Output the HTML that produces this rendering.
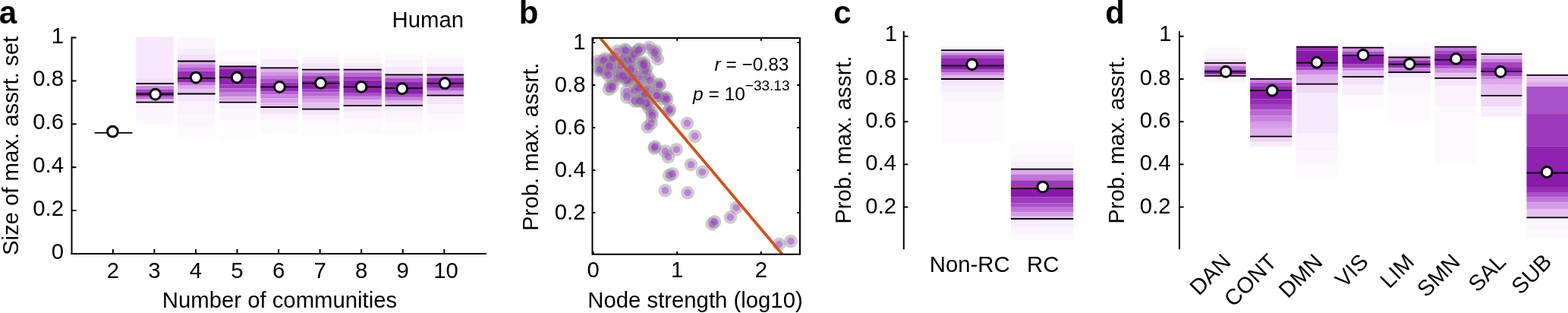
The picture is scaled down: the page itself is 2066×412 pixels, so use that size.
<!DOCTYPE html>
<html><head><meta charset="utf-8"><style>
html,body{margin:0;padding:0;background:#fff;overflow:hidden;}
svg{display:block;font-family:"Liberation Sans", Arial, Helvetica, sans-serif;}
</style></head><body>
<svg width="2066" height="412" viewBox="0 0 2066 412">
<rect width="2066" height="412" fill="#fff"/>
<rect x="179.30" y="48.50" width="49.50" height="53.80" fill="#f6e8fa"/>
<rect x="179.30" y="102.30" width="49.50" height="7.70" fill="#f2def8"/>
<rect x="179.30" y="110.00" width="49.50" height="3.20" fill="#e6c0f1"/>
<rect x="179.30" y="113.20" width="49.50" height="4.50" fill="#c882de"/>
<rect x="179.30" y="117.70" width="49.50" height="2.80" fill="#a344c1"/>
<rect x="179.30" y="120.50" width="49.50" height="2.70" fill="#8919aa"/>
<rect x="179.30" y="123.20" width="49.50" height="4.20" fill="#8f23af"/>
<rect x="179.30" y="127.40" width="49.50" height="3.10" fill="#b969d3"/>
<rect x="179.30" y="130.50" width="49.50" height="4.20" fill="#e1b4ee"/>
<rect x="179.30" y="134.70" width="49.50" height="29.30" fill="#fcf7fe"/>
<rect x="234.00" y="48.70" width="49.60" height="14.90" fill="#fcf7fe"/>
<rect x="234.00" y="63.60" width="49.60" height="8.20" fill="#f8edfc"/>
<rect x="234.00" y="71.80" width="49.60" height="8.70" fill="#f3e0f9"/>
<rect x="234.00" y="80.50" width="49.60" height="4.50" fill="#dba8ea"/>
<rect x="234.00" y="85.00" width="49.60" height="3.90" fill="#c882de"/>
<rect x="234.00" y="88.90" width="49.60" height="4.80" fill="#b25cce"/>
<rect x="234.00" y="93.70" width="49.60" height="9.20" fill="#962db4"/>
<rect x="234.00" y="102.90" width="49.60" height="5.70" fill="#8f23af"/>
<rect x="234.00" y="108.60" width="49.60" height="4.00" fill="#c075d8"/>
<rect x="234.00" y="112.60" width="49.60" height="4.70" fill="#dba8ea"/>
<rect x="234.00" y="117.30" width="49.60" height="6.20" fill="#e6c0f1"/>
<rect x="234.00" y="123.50" width="49.60" height="9.70" fill="#f5e5fa"/>
<rect x="234.00" y="133.20" width="49.60" height="18.60" fill="#faf1fc"/>
<rect x="234.00" y="151.80" width="49.60" height="15.20" fill="#fcf7fe"/>
<rect x="234.00" y="167.00" width="49.60" height="15.00" fill="#fefbfe"/>
<rect x="288.90" y="64.80" width="49.10" height="15.20" fill="#fdfafe"/>
<rect x="288.90" y="80.00" width="49.10" height="7.30" fill="#f9effc"/>
<rect x="288.90" y="87.30" width="49.10" height="3.70" fill="#aa50c8"/>
<rect x="288.90" y="91.00" width="49.10" height="10.90" fill="#8b1dac"/>
<rect x="288.90" y="101.90" width="49.10" height="9.60" fill="#8f23af"/>
<rect x="288.90" y="111.50" width="49.10" height="4.80" fill="#9d39bb"/>
<rect x="288.90" y="116.30" width="49.10" height="5.50" fill="#b25cce"/>
<rect x="288.90" y="121.80" width="49.10" height="5.50" fill="#c882de"/>
<rect x="288.90" y="127.30" width="49.10" height="4.70" fill="#dba8ea"/>
<rect x="288.90" y="132.00" width="49.10" height="2.70" fill="#e6c0f1"/>
<rect x="288.90" y="134.70" width="49.10" height="8.30" fill="#f9effc"/>
<rect x="288.90" y="143.00" width="49.10" height="14.70" fill="#fcf7fe"/>
<rect x="288.90" y="157.70" width="49.10" height="27.30" fill="#fefcfe"/>
<rect x="343.30" y="63.70" width="49.70" height="14.30" fill="#fcf8fe"/>
<rect x="343.30" y="78.00" width="49.70" height="11.40" fill="#f8edfc"/>
<rect x="343.30" y="89.40" width="49.70" height="5.10" fill="#e1b4ee"/>
<rect x="343.30" y="94.50" width="49.70" height="4.70" fill="#d296e4"/>
<rect x="343.30" y="99.20" width="49.70" height="4.70" fill="#c075d8"/>
<rect x="343.30" y="103.90" width="49.70" height="4.80" fill="#aa50c8"/>
<rect x="343.30" y="108.70" width="49.70" height="5.70" fill="#962db4"/>
<rect x="343.30" y="114.40" width="49.70" height="6.10" fill="#9227b1"/>
<rect x="343.30" y="120.50" width="49.70" height="3.90" fill="#b25cce"/>
<rect x="343.30" y="124.40" width="49.70" height="4.80" fill="#c882de"/>
<rect x="343.30" y="129.20" width="49.70" height="6.30" fill="#d7a0e8"/>
<rect x="343.30" y="135.50" width="49.70" height="5.50" fill="#e3b9ef"/>
<rect x="343.30" y="141.00" width="49.70" height="9.50" fill="#f5e5fa"/>
<rect x="343.30" y="150.50" width="49.70" height="7.20" fill="#faf2fc"/>
<rect x="343.30" y="157.70" width="49.70" height="18.30" fill="#fdfafe"/>
<rect x="398.00" y="66.00" width="49.40" height="8.60" fill="#fdfafe"/>
<rect x="398.00" y="74.60" width="49.40" height="8.80" fill="#faf2fc"/>
<rect x="398.00" y="83.40" width="49.40" height="8.20" fill="#f4e3f9"/>
<rect x="398.00" y="91.60" width="49.40" height="4.40" fill="#dba8ea"/>
<rect x="398.00" y="96.00" width="49.40" height="4.00" fill="#c075d8"/>
<rect x="398.00" y="100.00" width="49.40" height="5.50" fill="#a344c1"/>
<rect x="398.00" y="105.50" width="49.40" height="4.20" fill="#8f23af"/>
<rect x="398.00" y="109.70" width="49.40" height="7.60" fill="#8d1fad"/>
<rect x="398.00" y="117.30" width="49.40" height="4.00" fill="#a344c1"/>
<rect x="398.00" y="121.30" width="49.40" height="4.70" fill="#b969d3"/>
<rect x="398.00" y="126.00" width="49.40" height="4.70" fill="#ce8ee2"/>
<rect x="398.00" y="130.70" width="49.40" height="4.80" fill="#dba8ea"/>
<rect x="398.00" y="135.50" width="49.40" height="8.10" fill="#e6c0f1"/>
<rect x="398.00" y="143.60" width="49.40" height="7.40" fill="#f5e5fa"/>
<rect x="398.00" y="151.00" width="49.40" height="6.00" fill="#faf2fc"/>
<rect x="398.00" y="157.00" width="49.40" height="7.00" fill="#fcf8fe"/>
<rect x="398.00" y="164.00" width="49.40" height="16.00" fill="#fefcfe"/>
<rect x="452.60" y="68.00" width="50.20" height="8.80" fill="#fdfafe"/>
<rect x="452.60" y="76.80" width="50.20" height="6.60" fill="#fbf5fd"/>
<rect x="452.60" y="83.40" width="50.20" height="8.20" fill="#f6e8fa"/>
<rect x="452.60" y="91.60" width="50.20" height="4.40" fill="#d49be6"/>
<rect x="452.60" y="96.00" width="50.20" height="4.80" fill="#b969d3"/>
<rect x="452.60" y="100.80" width="50.20" height="4.70" fill="#9d39bb"/>
<rect x="452.60" y="105.50" width="50.20" height="8.90" fill="#8d1fad"/>
<rect x="452.60" y="114.40" width="50.20" height="7.60" fill="#8f23af"/>
<rect x="452.60" y="122.00" width="50.20" height="4.80" fill="#aa50c8"/>
<rect x="452.60" y="126.80" width="50.20" height="4.70" fill="#c882de"/>
<rect x="452.60" y="131.50" width="50.20" height="7.70" fill="#e1b4ee"/>
<rect x="452.60" y="139.20" width="50.20" height="7.60" fill="#f6e8fa"/>
<rect x="452.60" y="146.80" width="50.20" height="9.20" fill="#faf3fd"/>
<rect x="452.60" y="156.00" width="50.20" height="20.00" fill="#fdfafe"/>
<rect x="507.40" y="70.30" width="49.70" height="8.70" fill="#fdfafe"/>
<rect x="507.40" y="79.00" width="49.70" height="8.80" fill="#faf3fd"/>
<rect x="507.40" y="87.80" width="49.70" height="10.50" fill="#f6e8fa"/>
<rect x="507.40" y="98.30" width="49.70" height="4.30" fill="#ce8ee2"/>
<rect x="507.40" y="102.60" width="49.70" height="4.80" fill="#aa50c8"/>
<rect x="507.40" y="107.40" width="49.70" height="8.70" fill="#8f23af"/>
<rect x="507.40" y="116.10" width="49.70" height="7.80" fill="#8d1fad"/>
<rect x="507.40" y="123.90" width="49.70" height="4.00" fill="#aa50c8"/>
<rect x="507.40" y="127.90" width="49.70" height="4.70" fill="#c882de"/>
<rect x="507.40" y="132.60" width="49.70" height="6.30" fill="#e1b4ee"/>
<rect x="507.40" y="138.90" width="49.70" height="9.70" fill="#f9effc"/>
<rect x="507.40" y="148.60" width="49.70" height="12.80" fill="#fcf6fd"/>
<rect x="507.40" y="161.40" width="49.70" height="15.40" fill="#fefbfe"/>
<rect x="562.40" y="68.00" width="48.60" height="8.80" fill="#fdfafe"/>
<rect x="562.40" y="76.80" width="48.60" height="11.00" fill="#faf2fc"/>
<rect x="562.40" y="87.80" width="48.60" height="10.70" fill="#f5e5fa"/>
<rect x="562.40" y="98.50" width="48.60" height="3.90" fill="#c882de"/>
<rect x="562.40" y="102.40" width="48.60" height="7.30" fill="#962db4"/>
<rect x="562.40" y="109.70" width="48.60" height="6.10" fill="#8f23af"/>
<rect x="562.40" y="115.80" width="48.60" height="3.90" fill="#b25cce"/>
<rect x="562.40" y="119.70" width="48.60" height="5.90" fill="#d49be6"/>
<rect x="562.40" y="125.60" width="48.60" height="11.40" fill="#f5e5fa"/>
<rect x="562.40" y="137.00" width="48.60" height="13.00" fill="#faf2fc"/>
<rect x="562.40" y="150.00" width="48.60" height="23.00" fill="#fdfafe"/>
<rect x="1240.10" y="59.70" width="82.70" height="6.40" fill="#fcf7fe"/>
<rect x="1240.10" y="66.10" width="82.70" height="3.30" fill="#e6c0f1"/>
<rect x="1240.10" y="69.40" width="82.70" height="2.90" fill="#ce8ee2"/>
<rect x="1240.10" y="72.30" width="82.70" height="3.90" fill="#aa50c8"/>
<rect x="1240.10" y="76.20" width="82.70" height="10.10" fill="#9227b1"/>
<rect x="1240.10" y="86.30" width="82.70" height="5.40" fill="#8919aa"/>
<rect x="1240.10" y="91.70" width="82.70" height="3.90" fill="#aa50c8"/>
<rect x="1240.10" y="95.60" width="82.70" height="3.90" fill="#ce8ee2"/>
<rect x="1240.10" y="99.50" width="82.70" height="4.50" fill="#e1b4ee"/>
<rect x="1240.10" y="104.00" width="82.70" height="9.30" fill="#f5e5fa"/>
<rect x="1240.10" y="113.30" width="82.70" height="8.50" fill="#f9effc"/>
<rect x="1240.10" y="121.80" width="82.70" height="12.20" fill="#fcf6fd"/>
<rect x="1240.10" y="134.00" width="82.70" height="53.40" fill="#fefbfe"/>
<rect x="1332.00" y="187.80" width="82.20" height="15.50" fill="#fefbfe"/>
<rect x="1332.00" y="203.30" width="82.20" height="9.70" fill="#fcf7fe"/>
<rect x="1332.00" y="213.00" width="82.20" height="9.70" fill="#f9effc"/>
<rect x="1332.00" y="222.70" width="82.20" height="6.80" fill="#dba8ea"/>
<rect x="1332.00" y="229.50" width="82.20" height="7.80" fill="#c075d8"/>
<rect x="1332.00" y="237.30" width="82.20" height="10.80" fill="#9d39bb"/>
<rect x="1332.00" y="248.10" width="82.20" height="11.50" fill="#8919aa"/>
<rect x="1332.00" y="259.60" width="82.20" height="7.70" fill="#9d39bb"/>
<rect x="1332.00" y="267.30" width="82.20" height="5.50" fill="#aa50c8"/>
<rect x="1332.00" y="272.80" width="82.20" height="6.50" fill="#c075d8"/>
<rect x="1332.00" y="279.30" width="82.20" height="5.50" fill="#d49be6"/>
<rect x="1332.00" y="284.80" width="82.20" height="3.20" fill="#e6c0f1"/>
<rect x="1332.00" y="288.00" width="82.20" height="11.00" fill="#f8edfc"/>
<rect x="1332.00" y="299.00" width="82.20" height="8.70" fill="#fbf5fd"/>
<rect x="1332.00" y="307.70" width="82.20" height="8.70" fill="#fdfafe"/>
<rect x="1587.00" y="62.00" width="54.60" height="7.70" fill="#fdfafe"/>
<rect x="1587.00" y="69.70" width="54.60" height="7.60" fill="#faf2fc"/>
<rect x="1587.00" y="77.30" width="54.60" height="5.50" fill="#f5e5fa"/>
<rect x="1587.00" y="82.80" width="54.60" height="4.30" fill="#e1b4ee"/>
<rect x="1587.00" y="87.10" width="54.60" height="4.40" fill="#c075d8"/>
<rect x="1587.00" y="91.50" width="54.60" height="3.30" fill="#962db4"/>
<rect x="1587.00" y="94.80" width="54.60" height="3.20" fill="#962db4"/>
<rect x="1587.00" y="98.00" width="54.60" height="1.80" fill="#d49be6"/>
<rect x="1587.00" y="99.80" width="54.60" height="9.20" fill="#fbf5fd"/>
<rect x="1647.10" y="101.40" width="55.20" height="2.50" fill="#faf2fc"/>
<rect x="1647.10" y="103.90" width="55.20" height="5.10" fill="#c882de"/>
<rect x="1647.10" y="109.00" width="55.20" height="5.00" fill="#a74bc5"/>
<rect x="1647.10" y="114.00" width="55.20" height="5.20" fill="#952bb3"/>
<rect x="1647.10" y="119.20" width="55.20" height="11.40" fill="#8919aa"/>
<rect x="1647.10" y="130.60" width="55.20" height="6.40" fill="#962db4"/>
<rect x="1647.10" y="137.00" width="55.20" height="7.60" fill="#a344c1"/>
<rect x="1647.10" y="144.60" width="55.20" height="7.70" fill="#b969d3"/>
<rect x="1647.10" y="152.30" width="55.20" height="7.70" fill="#c882de"/>
<rect x="1647.10" y="160.00" width="55.20" height="8.80" fill="#d49be6"/>
<rect x="1647.10" y="168.80" width="55.20" height="10.90" fill="#ddacec"/>
<rect x="1647.10" y="179.70" width="55.20" height="6.90" fill="#eed4f6"/>
<rect x="1647.10" y="186.60" width="55.20" height="6.40" fill="#f7eafb"/>
<rect x="1708.00" y="61.60" width="54.90" height="4.80" fill="#962db4"/>
<rect x="1708.00" y="66.40" width="54.90" height="15.90" fill="#8919aa"/>
<rect x="1708.00" y="82.30" width="54.90" height="5.90" fill="#8f23af"/>
<rect x="1708.00" y="88.20" width="54.90" height="4.40" fill="#a344c1"/>
<rect x="1708.00" y="92.60" width="54.90" height="5.40" fill="#ce8ee2"/>
<rect x="1708.00" y="98.00" width="54.90" height="12.70" fill="#e1b4ee"/>
<rect x="1708.00" y="110.70" width="54.90" height="11.30" fill="#f0d9f7"/>
<rect x="1708.00" y="122.00" width="54.90" height="53.00" fill="#f6e9fb"/>
<rect x="1708.00" y="175.00" width="54.90" height="23.50" fill="#faf2fc"/>
<rect x="1708.00" y="198.50" width="54.90" height="17.50" fill="#fcf7fe"/>
<rect x="1708.00" y="216.00" width="54.90" height="20.40" fill="#fefbfe"/>
<rect x="1768.70" y="62.70" width="54.60" height="5.00" fill="#ce8ee2"/>
<rect x="1768.70" y="67.70" width="54.60" height="5.10" fill="#aa50c8"/>
<rect x="1768.70" y="72.80" width="54.60" height="11.90" fill="#8919aa"/>
<rect x="1768.70" y="84.70" width="54.60" height="4.30" fill="#a344c1"/>
<rect x="1768.70" y="89.00" width="54.60" height="4.20" fill="#ce8ee2"/>
<rect x="1768.70" y="93.20" width="54.60" height="8.00" fill="#e6c0f1"/>
<rect x="1768.70" y="101.20" width="54.60" height="9.80" fill="#f3e0f9"/>
<rect x="1768.70" y="111.00" width="54.60" height="14.00" fill="#f9effc"/>
<rect x="1768.70" y="125.00" width="54.60" height="20.00" fill="#fcf8fe"/>
<rect x="1829.20" y="55.50" width="55.40" height="7.50" fill="#fdfafe"/>
<rect x="1829.20" y="63.00" width="55.40" height="8.80" fill="#fbf5fd"/>
<rect x="1829.20" y="71.80" width="55.40" height="3.50" fill="#f5e5fa"/>
<rect x="1829.20" y="75.30" width="55.40" height="4.20" fill="#c075d8"/>
<rect x="1829.20" y="79.50" width="55.40" height="4.80" fill="#962db4"/>
<rect x="1829.20" y="84.30" width="55.40" height="5.00" fill="#962db4"/>
<rect x="1829.20" y="89.30" width="55.40" height="5.90" fill="#c882de"/>
<rect x="1829.20" y="95.20" width="55.40" height="7.20" fill="#f5e5fa"/>
<rect x="1829.20" y="102.40" width="55.40" height="19.60" fill="#fbf5fd"/>
<rect x="1829.20" y="122.00" width="55.40" height="38.00" fill="#fdfafe"/>
<rect x="1890.30" y="61.60" width="55.20" height="4.80" fill="#c075d8"/>
<rect x="1890.30" y="66.40" width="55.20" height="4.30" fill="#a344c1"/>
<rect x="1890.30" y="70.70" width="55.20" height="7.70" fill="#8d1fad"/>
<rect x="1890.30" y="78.40" width="55.20" height="7.60" fill="#8f23af"/>
<rect x="1890.30" y="86.00" width="55.20" height="4.40" fill="#b25cce"/>
<rect x="1890.30" y="90.40" width="55.20" height="5.50" fill="#ce8ee2"/>
<rect x="1890.30" y="95.90" width="55.20" height="6.90" fill="#e6c0f1"/>
<rect x="1890.30" y="102.80" width="55.20" height="10.50" fill="#f5e5fa"/>
<rect x="1890.30" y="113.30" width="55.20" height="26.70" fill="#faf2fc"/>
<rect x="1890.30" y="140.00" width="55.20" height="76.00" fill="#fdfafe"/>
<rect x="1951.40" y="63.00" width="54.10" height="8.20" fill="#fcf7fe"/>
<rect x="1951.40" y="71.20" width="54.10" height="6.10" fill="#e1b4ee"/>
<rect x="1951.40" y="77.30" width="54.10" height="4.40" fill="#c882de"/>
<rect x="1951.40" y="81.70" width="54.10" height="6.50" fill="#a344c1"/>
<rect x="1951.40" y="88.20" width="54.10" height="5.90" fill="#8f23af"/>
<rect x="1951.40" y="94.10" width="54.10" height="6.10" fill="#a344c1"/>
<rect x="1951.40" y="100.20" width="54.10" height="4.40" fill="#c882de"/>
<rect x="1951.40" y="104.60" width="54.10" height="6.50" fill="#dba8ea"/>
<rect x="1951.40" y="111.10" width="54.10" height="14.70" fill="#e6c0f1"/>
<rect x="1951.40" y="125.80" width="54.10" height="14.20" fill="#f0d9f7"/>
<rect x="1951.40" y="140.00" width="54.10" height="14.00" fill="#f9effc"/>
<rect x="2011.50" y="98.80" width="54.50" height="8.60" fill="#e6c0f1"/>
<rect x="2011.50" y="107.40" width="54.50" height="6.60" fill="#dba8ea"/>
<rect x="2011.50" y="114.00" width="54.50" height="36.00" fill="#aa50c8"/>
<rect x="2011.50" y="150.00" width="54.50" height="42.80" fill="#9d39bb"/>
<rect x="2011.50" y="192.80" width="54.50" height="31.20" fill="#8f23af"/>
<rect x="2011.50" y="224.00" width="54.50" height="22.00" fill="#8919aa"/>
<rect x="2011.50" y="246.00" width="54.50" height="7.00" fill="#962db4"/>
<rect x="2011.50" y="253.00" width="54.50" height="6.70" fill="#aa50c8"/>
<rect x="2011.50" y="259.70" width="54.50" height="6.80" fill="#c075d8"/>
<rect x="2011.50" y="266.50" width="54.50" height="8.50" fill="#d49be6"/>
<rect x="2011.50" y="275.00" width="54.50" height="11.30" fill="#e6c0f1"/>
<rect x="2011.50" y="286.30" width="54.50" height="15.90" fill="#fbf5fd"/>
<rect x="2011.50" y="302.20" width="54.50" height="10.20" fill="#fdfafe"/>
<line x1="179.30" y1="110.00" x2="228.80" y2="110.00" stroke="#000" stroke-width="1.8"/>
<line x1="179.30" y1="123.90" x2="228.80" y2="123.90" stroke="#000" stroke-width="1.8"/>
<line x1="179.30" y1="134.70" x2="228.80" y2="134.70" stroke="#000" stroke-width="1.8"/>
<line x1="234.00" y1="80.50" x2="283.60" y2="80.50" stroke="#000" stroke-width="1.8"/>
<line x1="234.00" y1="102.90" x2="283.60" y2="102.90" stroke="#000" stroke-width="1.8"/>
<line x1="234.00" y1="123.50" x2="283.60" y2="123.50" stroke="#000" stroke-width="1.8"/>
<line x1="288.90" y1="87.30" x2="338.00" y2="87.30" stroke="#000" stroke-width="1.8"/>
<line x1="288.90" y1="101.90" x2="338.00" y2="101.90" stroke="#000" stroke-width="1.8"/>
<line x1="288.90" y1="134.70" x2="338.00" y2="134.70" stroke="#000" stroke-width="1.8"/>
<line x1="343.30" y1="89.40" x2="393.00" y2="89.40" stroke="#000" stroke-width="1.8"/>
<line x1="343.30" y1="114.40" x2="393.00" y2="114.40" stroke="#000" stroke-width="1.8"/>
<line x1="343.30" y1="141.00" x2="393.00" y2="141.00" stroke="#000" stroke-width="1.8"/>
<line x1="398.00" y1="91.60" x2="447.40" y2="91.60" stroke="#000" stroke-width="1.8"/>
<line x1="398.00" y1="109.70" x2="447.40" y2="109.70" stroke="#000" stroke-width="1.8"/>
<line x1="398.00" y1="143.60" x2="447.40" y2="143.60" stroke="#000" stroke-width="1.8"/>
<line x1="452.60" y1="91.60" x2="502.80" y2="91.60" stroke="#000" stroke-width="1.8"/>
<line x1="452.60" y1="114.40" x2="502.80" y2="114.40" stroke="#000" stroke-width="1.8"/>
<line x1="452.60" y1="139.20" x2="502.80" y2="139.20" stroke="#000" stroke-width="1.8"/>
<line x1="507.40" y1="98.30" x2="557.10" y2="98.30" stroke="#000" stroke-width="1.8"/>
<line x1="507.40" y1="116.10" x2="557.10" y2="116.10" stroke="#000" stroke-width="1.8"/>
<line x1="507.40" y1="138.90" x2="557.10" y2="138.90" stroke="#000" stroke-width="1.8"/>
<line x1="562.40" y1="98.50" x2="611.00" y2="98.50" stroke="#000" stroke-width="1.8"/>
<line x1="562.40" y1="109.70" x2="611.00" y2="109.70" stroke="#000" stroke-width="1.8"/>
<line x1="562.40" y1="125.60" x2="611.00" y2="125.60" stroke="#000" stroke-width="1.8"/>
<line x1="124.50" y1="174.90" x2="174.40" y2="174.90" stroke="#000" stroke-width="1.8"/>
<line x1="1240.10" y1="66.10" x2="1322.80" y2="66.10" stroke="#000" stroke-width="1.8"/>
<line x1="1240.10" y1="86.30" x2="1322.80" y2="86.30" stroke="#000" stroke-width="1.8"/>
<line x1="1240.10" y1="104.00" x2="1322.80" y2="104.00" stroke="#000" stroke-width="1.8"/>
<line x1="1332.00" y1="222.70" x2="1414.20" y2="222.70" stroke="#000" stroke-width="1.8"/>
<line x1="1332.00" y1="248.10" x2="1414.20" y2="248.10" stroke="#000" stroke-width="1.8"/>
<line x1="1332.00" y1="288.00" x2="1414.20" y2="288.00" stroke="#000" stroke-width="1.8"/>
<line x1="1587.00" y1="82.80" x2="1641.60" y2="82.80" stroke="#000" stroke-width="1.8"/>
<line x1="1587.00" y1="94.40" x2="1641.60" y2="94.40" stroke="#000" stroke-width="1.8"/>
<line x1="1587.00" y1="99.80" x2="1641.60" y2="99.80" stroke="#000" stroke-width="1.8"/>
<line x1="1647.10" y1="103.90" x2="1702.30" y2="103.90" stroke="#000" stroke-width="1.8"/>
<line x1="1647.10" y1="119.10" x2="1702.30" y2="119.10" stroke="#000" stroke-width="1.8"/>
<line x1="1647.10" y1="179.70" x2="1702.30" y2="179.70" stroke="#000" stroke-width="1.8"/>
<line x1="1708.00" y1="61.60" x2="1762.90" y2="61.60" stroke="#000" stroke-width="1.8"/>
<line x1="1708.00" y1="82.60" x2="1762.90" y2="82.60" stroke="#000" stroke-width="1.8"/>
<line x1="1708.00" y1="110.70" x2="1762.90" y2="110.70" stroke="#000" stroke-width="1.8"/>
<line x1="1768.70" y1="62.70" x2="1823.30" y2="62.70" stroke="#000" stroke-width="1.8"/>
<line x1="1768.70" y1="72.90" x2="1823.30" y2="72.90" stroke="#000" stroke-width="1.8"/>
<line x1="1768.70" y1="101.20" x2="1823.30" y2="101.20" stroke="#000" stroke-width="1.8"/>
<line x1="1829.20" y1="75.30" x2="1884.60" y2="75.30" stroke="#000" stroke-width="1.8"/>
<line x1="1829.20" y1="84.60" x2="1884.60" y2="84.60" stroke="#000" stroke-width="1.8"/>
<line x1="1829.20" y1="95.20" x2="1884.60" y2="95.20" stroke="#000" stroke-width="1.8"/>
<line x1="1890.30" y1="61.60" x2="1945.50" y2="61.60" stroke="#000" stroke-width="1.8"/>
<line x1="1890.30" y1="78.60" x2="1945.50" y2="78.60" stroke="#000" stroke-width="1.8"/>
<line x1="1890.30" y1="102.80" x2="1945.50" y2="102.80" stroke="#000" stroke-width="1.8"/>
<line x1="1951.40" y1="71.20" x2="2005.50" y2="71.20" stroke="#000" stroke-width="1.8"/>
<line x1="1951.40" y1="94.10" x2="2005.50" y2="94.10" stroke="#000" stroke-width="1.8"/>
<line x1="1951.40" y1="125.80" x2="2005.50" y2="125.80" stroke="#000" stroke-width="1.8"/>
<line x1="2011.50" y1="98.80" x2="2066.00" y2="98.80" stroke="#000" stroke-width="1.8"/>
<line x1="2011.50" y1="227.60" x2="2066.00" y2="227.60" stroke="#000" stroke-width="1.8"/>
<line x1="2011.50" y1="286.30" x2="2066.00" y2="286.30" stroke="#000" stroke-width="1.8"/>
<circle cx="204.70" cy="124.10" r="6.9" fill="#fff" stroke="#000" stroke-width="3.0"/>
<circle cx="258.20" cy="102.10" r="6.9" fill="#fff" stroke="#000" stroke-width="3.0"/>
<circle cx="312.20" cy="102.00" r="6.9" fill="#fff" stroke="#000" stroke-width="3.0"/>
<circle cx="368.40" cy="114.40" r="6.9" fill="#fff" stroke="#000" stroke-width="3.0"/>
<circle cx="422.50" cy="109.40" r="6.9" fill="#fff" stroke="#000" stroke-width="3.0"/>
<circle cx="476.00" cy="114.40" r="6.9" fill="#fff" stroke="#000" stroke-width="3.0"/>
<circle cx="529.70" cy="116.70" r="6.9" fill="#fff" stroke="#000" stroke-width="3.0"/>
<circle cx="586.20" cy="109.70" r="6.9" fill="#fff" stroke="#000" stroke-width="3.0"/>
<circle cx="148.40" cy="173.20" r="6.9" fill="#fff" stroke="#000" stroke-width="3.0"/>
<circle cx="1280.70" cy="84.80" r="6.9" fill="#fff" stroke="#000" stroke-width="3.0"/>
<circle cx="1373.90" cy="246.10" r="6.9" fill="#fff" stroke="#000" stroke-width="3.0"/>
<circle cx="1615.10" cy="94.40" r="6.9" fill="#fff" stroke="#000" stroke-width="3.0"/>
<circle cx="1676.20" cy="119.20" r="6.9" fill="#fff" stroke="#000" stroke-width="3.0"/>
<circle cx="1734.90" cy="82.20" r="6.9" fill="#fff" stroke="#000" stroke-width="3.0"/>
<circle cx="1796.10" cy="72.40" r="6.9" fill="#fff" stroke="#000" stroke-width="3.0"/>
<circle cx="1857.20" cy="84.30" r="6.9" fill="#fff" stroke="#000" stroke-width="3.0"/>
<circle cx="1918.50" cy="77.40" r="6.9" fill="#fff" stroke="#000" stroke-width="3.0"/>
<circle cx="1977.10" cy="94.40" r="6.9" fill="#fff" stroke="#000" stroke-width="3.0"/>
<circle cx="2038.20" cy="226.50" r="6.9" fill="#fff" stroke="#000" stroke-width="3.0"/>
<g>
<circle cx="787.3" cy="80.5" r="4.9" fill="rgb(150,45,195)" fill-opacity="0.6"/>
<circle cx="787.3" cy="80.5" r="6.85" fill="none" stroke="rgb(140,140,140)" stroke-opacity="0.45" stroke-width="3.9"/>
<circle cx="791.0" cy="90.7" r="4.9" fill="rgb(150,45,195)" fill-opacity="0.6"/>
<circle cx="791.0" cy="90.7" r="6.85" fill="none" stroke="rgb(140,140,140)" stroke-opacity="0.45" stroke-width="3.9"/>
<circle cx="797.0" cy="77.4" r="4.9" fill="rgb(150,45,195)" fill-opacity="0.6"/>
<circle cx="797.0" cy="77.4" r="6.85" fill="none" stroke="rgb(140,140,140)" stroke-opacity="0.45" stroke-width="3.9"/>
<circle cx="802.6" cy="85.5" r="4.9" fill="rgb(150,45,195)" fill-opacity="0.6"/>
<circle cx="802.6" cy="85.5" r="6.85" fill="none" stroke="rgb(140,140,140)" stroke-opacity="0.45" stroke-width="3.9"/>
<circle cx="799.4" cy="95.5" r="4.9" fill="rgb(150,45,195)" fill-opacity="0.6"/>
<circle cx="799.4" cy="95.5" r="6.85" fill="none" stroke="rgb(140,140,140)" stroke-opacity="0.45" stroke-width="3.9"/>
<circle cx="808.7" cy="77.5" r="4.9" fill="rgb(150,45,195)" fill-opacity="0.6"/>
<circle cx="808.7" cy="77.5" r="6.85" fill="none" stroke="rgb(140,140,140)" stroke-opacity="0.45" stroke-width="3.9"/>
<circle cx="812.0" cy="91.5" r="4.9" fill="rgb(150,45,195)" fill-opacity="0.6"/>
<circle cx="812.0" cy="91.5" r="6.85" fill="none" stroke="rgb(140,140,140)" stroke-opacity="0.45" stroke-width="3.9"/>
<circle cx="813.3" cy="67.4" r="4.9" fill="rgb(150,45,195)" fill-opacity="0.6"/>
<circle cx="813.3" cy="67.4" r="6.85" fill="none" stroke="rgb(140,140,140)" stroke-opacity="0.45" stroke-width="3.9"/>
<circle cx="823.5" cy="65.1" r="4.9" fill="rgb(150,45,195)" fill-opacity="0.6"/>
<circle cx="823.5" cy="65.1" r="6.85" fill="none" stroke="rgb(140,140,140)" stroke-opacity="0.45" stroke-width="3.9"/>
<circle cx="823.7" cy="81.0" r="4.9" fill="rgb(150,45,195)" fill-opacity="0.6"/>
<circle cx="823.7" cy="81.0" r="6.85" fill="none" stroke="rgb(140,140,140)" stroke-opacity="0.45" stroke-width="3.9"/>
<circle cx="821.2" cy="75.9" r="4.9" fill="rgb(150,45,195)" fill-opacity="0.6"/>
<circle cx="821.2" cy="75.9" r="6.85" fill="none" stroke="rgb(140,140,140)" stroke-opacity="0.45" stroke-width="3.9"/>
<circle cx="834.0" cy="69.3" r="4.9" fill="rgb(150,45,195)" fill-opacity="0.6"/>
<circle cx="834.0" cy="69.3" r="6.85" fill="none" stroke="rgb(140,140,140)" stroke-opacity="0.45" stroke-width="3.9"/>
<circle cx="842.6" cy="64.8" r="4.9" fill="rgb(150,45,195)" fill-opacity="0.6"/>
<circle cx="842.6" cy="64.8" r="6.85" fill="none" stroke="rgb(140,140,140)" stroke-opacity="0.45" stroke-width="3.9"/>
<circle cx="845.0" cy="83.2" r="4.9" fill="rgb(150,45,195)" fill-opacity="0.6"/>
<circle cx="845.0" cy="83.2" r="6.85" fill="none" stroke="rgb(140,140,140)" stroke-opacity="0.45" stroke-width="3.9"/>
<circle cx="832.5" cy="88.7" r="4.9" fill="rgb(150,45,195)" fill-opacity="0.6"/>
<circle cx="832.5" cy="88.7" r="6.85" fill="none" stroke="rgb(140,140,140)" stroke-opacity="0.45" stroke-width="3.9"/>
<circle cx="827.4" cy="79.1" r="4.9" fill="rgb(150,45,195)" fill-opacity="0.6"/>
<circle cx="827.4" cy="79.1" r="6.85" fill="none" stroke="rgb(140,140,140)" stroke-opacity="0.45" stroke-width="3.9"/>
<circle cx="848.7" cy="82.2" r="4.9" fill="rgb(150,45,195)" fill-opacity="0.6"/>
<circle cx="848.7" cy="82.2" r="6.85" fill="none" stroke="rgb(140,140,140)" stroke-opacity="0.45" stroke-width="3.9"/>
<circle cx="851.7" cy="90.0" r="4.9" fill="rgb(150,45,195)" fill-opacity="0.6"/>
<circle cx="851.7" cy="90.0" r="6.85" fill="none" stroke="rgb(140,140,140)" stroke-opacity="0.45" stroke-width="3.9"/>
<circle cx="840.8" cy="97.3" r="4.9" fill="rgb(150,45,195)" fill-opacity="0.6"/>
<circle cx="840.8" cy="97.3" r="6.85" fill="none" stroke="rgb(140,140,140)" stroke-opacity="0.45" stroke-width="3.9"/>
<circle cx="855.3" cy="62.1" r="4.9" fill="rgb(150,45,195)" fill-opacity="0.6"/>
<circle cx="855.3" cy="62.1" r="6.85" fill="none" stroke="rgb(140,140,140)" stroke-opacity="0.45" stroke-width="3.9"/>
<circle cx="863.9" cy="67.0" r="4.9" fill="rgb(150,45,195)" fill-opacity="0.6"/>
<circle cx="863.9" cy="67.0" r="6.85" fill="none" stroke="rgb(140,140,140)" stroke-opacity="0.45" stroke-width="3.9"/>
<circle cx="866.4" cy="77.6" r="4.9" fill="rgb(150,45,195)" fill-opacity="0.6"/>
<circle cx="866.4" cy="77.6" r="6.85" fill="none" stroke="rgb(140,140,140)" stroke-opacity="0.45" stroke-width="3.9"/>
<circle cx="822.5" cy="96.0" r="4.9" fill="rgb(150,45,195)" fill-opacity="0.6"/>
<circle cx="822.5" cy="96.0" r="6.85" fill="none" stroke="rgb(140,140,140)" stroke-opacity="0.45" stroke-width="3.9"/>
<circle cx="804.3" cy="112.6" r="4.9" fill="rgb(150,45,195)" fill-opacity="0.6"/>
<circle cx="804.3" cy="112.6" r="6.85" fill="none" stroke="rgb(140,140,140)" stroke-opacity="0.45" stroke-width="3.9"/>
<circle cx="802.5" cy="117.5" r="4.9" fill="rgb(150,45,195)" fill-opacity="0.6"/>
<circle cx="802.5" cy="117.5" r="6.85" fill="none" stroke="rgb(140,140,140)" stroke-opacity="0.45" stroke-width="3.9"/>
<circle cx="825.5" cy="120.5" r="4.9" fill="rgb(150,45,195)" fill-opacity="0.6"/>
<circle cx="825.5" cy="120.5" r="6.85" fill="none" stroke="rgb(140,140,140)" stroke-opacity="0.45" stroke-width="3.9"/>
<circle cx="826.1" cy="104.1" r="4.9" fill="rgb(150,45,195)" fill-opacity="0.6"/>
<circle cx="826.1" cy="104.1" r="6.85" fill="none" stroke="rgb(140,140,140)" stroke-opacity="0.45" stroke-width="3.9"/>
<circle cx="812.8" cy="103.5" r="4.9" fill="rgb(150,45,195)" fill-opacity="0.6"/>
<circle cx="812.8" cy="103.5" r="6.85" fill="none" stroke="rgb(140,140,140)" stroke-opacity="0.45" stroke-width="3.9"/>
<circle cx="828.6" cy="104.1" r="4.9" fill="rgb(150,45,195)" fill-opacity="0.6"/>
<circle cx="828.6" cy="104.1" r="6.85" fill="none" stroke="rgb(140,140,140)" stroke-opacity="0.45" stroke-width="3.9"/>
<circle cx="845.0" cy="104.7" r="4.9" fill="rgb(150,45,195)" fill-opacity="0.6"/>
<circle cx="845.0" cy="104.7" r="6.85" fill="none" stroke="rgb(140,140,140)" stroke-opacity="0.45" stroke-width="3.9"/>
<circle cx="853.5" cy="101.1" r="4.9" fill="rgb(150,45,195)" fill-opacity="0.6"/>
<circle cx="853.5" cy="101.1" r="6.85" fill="none" stroke="rgb(140,140,140)" stroke-opacity="0.45" stroke-width="3.9"/>
<circle cx="838.3" cy="114.4" r="4.9" fill="rgb(150,45,195)" fill-opacity="0.6"/>
<circle cx="838.3" cy="114.4" r="6.85" fill="none" stroke="rgb(140,140,140)" stroke-opacity="0.45" stroke-width="3.9"/>
<circle cx="857.8" cy="118.0" r="4.9" fill="rgb(150,45,195)" fill-opacity="0.6"/>
<circle cx="857.8" cy="118.0" r="6.85" fill="none" stroke="rgb(140,140,140)" stroke-opacity="0.45" stroke-width="3.9"/>
<circle cx="848.7" cy="126.0" r="4.9" fill="rgb(150,45,195)" fill-opacity="0.6"/>
<circle cx="848.7" cy="126.0" r="6.85" fill="none" stroke="rgb(140,140,140)" stroke-opacity="0.45" stroke-width="3.9"/>
<circle cx="865.7" cy="126.0" r="4.9" fill="rgb(150,45,195)" fill-opacity="0.6"/>
<circle cx="865.7" cy="126.0" r="6.85" fill="none" stroke="rgb(140,140,140)" stroke-opacity="0.45" stroke-width="3.9"/>
<circle cx="868.7" cy="110.8" r="4.9" fill="rgb(150,45,195)" fill-opacity="0.6"/>
<circle cx="868.7" cy="110.8" r="6.85" fill="none" stroke="rgb(140,140,140)" stroke-opacity="0.45" stroke-width="3.9"/>
<circle cx="840.8" cy="132.6" r="4.9" fill="rgb(150,45,195)" fill-opacity="0.6"/>
<circle cx="840.8" cy="132.6" r="6.85" fill="none" stroke="rgb(140,140,140)" stroke-opacity="0.45" stroke-width="3.9"/>
<circle cx="851.7" cy="136.3" r="4.9" fill="rgb(150,45,195)" fill-opacity="0.6"/>
<circle cx="851.7" cy="136.3" r="6.85" fill="none" stroke="rgb(140,140,140)" stroke-opacity="0.45" stroke-width="3.9"/>
<circle cx="873.5" cy="130.2" r="4.9" fill="rgb(150,45,195)" fill-opacity="0.6"/>
<circle cx="873.5" cy="130.2" r="6.85" fill="none" stroke="rgb(140,140,140)" stroke-opacity="0.45" stroke-width="3.9"/>
<circle cx="818.0" cy="86.0" r="4.9" fill="rgb(150,45,195)" fill-opacity="0.6"/>
<circle cx="818.0" cy="86.0" r="6.85" fill="none" stroke="rgb(140,140,140)" stroke-opacity="0.45" stroke-width="3.9"/>
<circle cx="834.0" cy="102.0" r="4.9" fill="rgb(150,45,195)" fill-opacity="0.6"/>
<circle cx="834.0" cy="102.0" r="6.85" fill="none" stroke="rgb(140,140,140)" stroke-opacity="0.45" stroke-width="3.9"/>
<circle cx="857.0" cy="106.0" r="4.9" fill="rgb(150,45,195)" fill-opacity="0.6"/>
<circle cx="857.0" cy="106.0" r="6.85" fill="none" stroke="rgb(140,140,140)" stroke-opacity="0.45" stroke-width="3.9"/>
<circle cx="836.0" cy="120.0" r="4.9" fill="rgb(150,45,195)" fill-opacity="0.6"/>
<circle cx="836.0" cy="120.0" r="6.85" fill="none" stroke="rgb(140,140,140)" stroke-opacity="0.45" stroke-width="3.9"/>
<circle cx="826.0" cy="128.0" r="4.9" fill="rgb(150,45,195)" fill-opacity="0.6"/>
<circle cx="826.0" cy="128.0" r="6.85" fill="none" stroke="rgb(140,140,140)" stroke-opacity="0.45" stroke-width="3.9"/>
<circle cx="854.8" cy="142.0" r="4.9" fill="rgb(150,45,195)" fill-opacity="0.6"/>
<circle cx="854.8" cy="142.0" r="6.85" fill="none" stroke="rgb(140,140,140)" stroke-opacity="0.45" stroke-width="3.9"/>
<circle cx="833.0" cy="78.0" r="4.9" fill="rgb(150,45,195)" fill-opacity="0.6"/>
<circle cx="833.0" cy="78.0" r="6.85" fill="none" stroke="rgb(140,140,140)" stroke-opacity="0.45" stroke-width="3.9"/>
<circle cx="816.0" cy="100.0" r="4.9" fill="rgb(150,45,195)" fill-opacity="0.6"/>
<circle cx="816.0" cy="100.0" r="6.85" fill="none" stroke="rgb(140,140,140)" stroke-opacity="0.45" stroke-width="3.9"/>
<circle cx="807.5" cy="76.6" r="4.9" fill="rgb(150,45,195)" fill-opacity="0.6"/>
<circle cx="807.5" cy="76.6" r="6.85" fill="none" stroke="rgb(140,140,140)" stroke-opacity="0.45" stroke-width="3.9"/>
<circle cx="850.2" cy="117.6" r="4.9" fill="rgb(150,45,195)" fill-opacity="0.6"/>
<circle cx="850.2" cy="117.6" r="6.85" fill="none" stroke="rgb(140,140,140)" stroke-opacity="0.45" stroke-width="3.9"/>
<circle cx="836.1" cy="132.9" r="4.9" fill="rgb(150,45,195)" fill-opacity="0.6"/>
<circle cx="836.1" cy="132.9" r="6.85" fill="none" stroke="rgb(140,140,140)" stroke-opacity="0.45" stroke-width="3.9"/>
<circle cx="859.0" cy="148.2" r="4.9" fill="rgb(150,45,195)" fill-opacity="0.6"/>
<circle cx="859.0" cy="148.2" r="6.85" fill="none" stroke="rgb(140,140,140)" stroke-opacity="0.45" stroke-width="3.9"/>
<circle cx="824.5" cy="66.5" r="4.9" fill="rgb(150,45,195)" fill-opacity="0.6"/>
<circle cx="824.5" cy="66.5" r="6.85" fill="none" stroke="rgb(140,140,140)" stroke-opacity="0.45" stroke-width="3.9"/>
<circle cx="836.0" cy="71.0" r="4.9" fill="rgb(150,45,195)" fill-opacity="0.6"/>
<circle cx="836.0" cy="71.0" r="6.85" fill="none" stroke="rgb(140,140,140)" stroke-opacity="0.45" stroke-width="3.9"/>
<circle cx="841.5" cy="66.0" r="4.9" fill="rgb(150,45,195)" fill-opacity="0.6"/>
<circle cx="841.5" cy="66.0" r="6.85" fill="none" stroke="rgb(140,140,140)" stroke-opacity="0.45" stroke-width="3.9"/>
<circle cx="862.0" cy="69.5" r="4.9" fill="rgb(150,45,195)" fill-opacity="0.6"/>
<circle cx="862.0" cy="69.5" r="6.85" fill="none" stroke="rgb(140,140,140)" stroke-opacity="0.45" stroke-width="3.9"/>
<circle cx="795.5" cy="79.5" r="4.9" fill="rgb(150,45,195)" fill-opacity="0.6"/>
<circle cx="795.5" cy="79.5" r="6.85" fill="none" stroke="rgb(140,140,140)" stroke-opacity="0.45" stroke-width="3.9"/>
<circle cx="789.5" cy="92.5" r="4.9" fill="rgb(150,45,195)" fill-opacity="0.6"/>
<circle cx="789.5" cy="92.5" r="6.85" fill="none" stroke="rgb(140,140,140)" stroke-opacity="0.45" stroke-width="3.9"/>
<circle cx="803.0" cy="87.5" r="4.9" fill="rgb(150,45,195)" fill-opacity="0.6"/>
<circle cx="803.0" cy="87.5" r="6.85" fill="none" stroke="rgb(140,140,140)" stroke-opacity="0.45" stroke-width="3.9"/>
<circle cx="801.5" cy="99.0" r="4.9" fill="rgb(150,45,195)" fill-opacity="0.6"/>
<circle cx="801.5" cy="99.0" r="6.85" fill="none" stroke="rgb(140,140,140)" stroke-opacity="0.45" stroke-width="3.9"/>
<circle cx="826.0" cy="106.0" r="4.9" fill="rgb(150,45,195)" fill-opacity="0.6"/>
<circle cx="826.0" cy="106.0" r="6.85" fill="none" stroke="rgb(140,140,140)" stroke-opacity="0.45" stroke-width="3.9"/>
<circle cx="821.0" cy="100.0" r="4.9" fill="rgb(150,45,195)" fill-opacity="0.6"/>
<circle cx="821.0" cy="100.0" r="6.85" fill="none" stroke="rgb(140,140,140)" stroke-opacity="0.45" stroke-width="3.9"/>
<circle cx="842.0" cy="116.0" r="4.9" fill="rgb(150,45,195)" fill-opacity="0.6"/>
<circle cx="842.0" cy="116.0" r="6.85" fill="none" stroke="rgb(140,140,140)" stroke-opacity="0.45" stroke-width="3.9"/>
<circle cx="807.0" cy="114.0" r="4.9" fill="rgb(150,45,195)" fill-opacity="0.6"/>
<circle cx="807.0" cy="114.0" r="6.85" fill="none" stroke="rgb(140,140,140)" stroke-opacity="0.45" stroke-width="3.9"/>
<circle cx="831.0" cy="91.5" r="4.9" fill="rgb(150,45,195)" fill-opacity="0.6"/>
<circle cx="831.0" cy="91.5" r="6.85" fill="none" stroke="rgb(140,140,140)" stroke-opacity="0.45" stroke-width="3.9"/>
<circle cx="850.0" cy="93.0" r="4.9" fill="rgb(150,45,195)" fill-opacity="0.6"/>
<circle cx="850.0" cy="93.0" r="6.85" fill="none" stroke="rgb(140,140,140)" stroke-opacity="0.45" stroke-width="3.9"/>
<circle cx="848.0" cy="85.0" r="4.9" fill="rgb(150,45,195)" fill-opacity="0.6"/>
<circle cx="848.0" cy="85.0" r="6.85" fill="none" stroke="rgb(140,140,140)" stroke-opacity="0.45" stroke-width="3.9"/>
<circle cx="877.0" cy="128.0" r="4.9" fill="rgb(150,45,195)" fill-opacity="0.6"/>
<circle cx="877.0" cy="128.0" r="6.85" fill="none" stroke="rgb(140,140,140)" stroke-opacity="0.45" stroke-width="3.9"/>
<circle cx="881.0" cy="146.5" r="4.9" fill="rgb(150,45,195)" fill-opacity="0.6"/>
<circle cx="881.0" cy="146.5" r="6.85" fill="none" stroke="rgb(140,140,140)" stroke-opacity="0.45" stroke-width="3.9"/>
<circle cx="862.0" cy="195.0" r="4.9" fill="rgb(150,45,195)" fill-opacity="0.6"/>
<circle cx="862.0" cy="195.0" r="6.85" fill="none" stroke="rgb(140,140,140)" stroke-opacity="0.45" stroke-width="3.9"/>
<circle cx="869.1" cy="112.4" r="4.9" fill="rgb(150,45,195)" fill-opacity="0.6"/>
<circle cx="869.1" cy="112.4" r="6.85" fill="none" stroke="rgb(140,140,140)" stroke-opacity="0.45" stroke-width="3.9"/>
<circle cx="878.8" cy="130.6" r="4.9" fill="rgb(150,45,195)" fill-opacity="0.6"/>
<circle cx="878.8" cy="130.6" r="6.85" fill="none" stroke="rgb(140,140,140)" stroke-opacity="0.45" stroke-width="3.9"/>
<circle cx="882.5" cy="144.0" r="4.9" fill="rgb(150,45,195)" fill-opacity="0.6"/>
<circle cx="882.5" cy="144.0" r="6.85" fill="none" stroke="rgb(140,140,140)" stroke-opacity="0.45" stroke-width="3.9"/>
<circle cx="905.5" cy="162.2" r="4.9" fill="rgb(150,45,195)" fill-opacity="0.6"/>
<circle cx="905.5" cy="162.2" r="6.85" fill="none" stroke="rgb(140,140,140)" stroke-opacity="0.45" stroke-width="3.9"/>
<circle cx="915.7" cy="179.2" r="4.9" fill="rgb(150,45,195)" fill-opacity="0.6"/>
<circle cx="915.7" cy="179.2" r="6.85" fill="none" stroke="rgb(140,140,140)" stroke-opacity="0.45" stroke-width="3.9"/>
<circle cx="859.4" cy="152.5" r="4.9" fill="rgb(150,45,195)" fill-opacity="0.6"/>
<circle cx="859.4" cy="152.5" r="6.85" fill="none" stroke="rgb(140,140,140)" stroke-opacity="0.45" stroke-width="3.9"/>
<circle cx="858.2" cy="162.2" r="4.9" fill="rgb(150,45,195)" fill-opacity="0.6"/>
<circle cx="858.2" cy="162.2" r="6.85" fill="none" stroke="rgb(140,140,140)" stroke-opacity="0.45" stroke-width="3.9"/>
<circle cx="853.3" cy="167.0" r="4.9" fill="rgb(150,45,195)" fill-opacity="0.6"/>
<circle cx="853.3" cy="167.0" r="6.85" fill="none" stroke="rgb(140,140,140)" stroke-opacity="0.45" stroke-width="3.9"/>
<circle cx="863.0" cy="193.0" r="4.9" fill="rgb(150,45,195)" fill-opacity="0.6"/>
<circle cx="863.0" cy="193.0" r="6.85" fill="none" stroke="rgb(140,140,140)" stroke-opacity="0.45" stroke-width="3.9"/>
<circle cx="876.4" cy="199.0" r="4.9" fill="rgb(150,45,195)" fill-opacity="0.6"/>
<circle cx="876.4" cy="199.0" r="6.85" fill="none" stroke="rgb(140,140,140)" stroke-opacity="0.45" stroke-width="3.9"/>
<circle cx="891.2" cy="196.8" r="4.9" fill="rgb(150,45,195)" fill-opacity="0.6"/>
<circle cx="891.2" cy="196.8" r="6.85" fill="none" stroke="rgb(140,140,140)" stroke-opacity="0.45" stroke-width="3.9"/>
<circle cx="880.6" cy="206.5" r="4.9" fill="rgb(150,45,195)" fill-opacity="0.6"/>
<circle cx="880.6" cy="206.5" r="6.85" fill="none" stroke="rgb(140,140,140)" stroke-opacity="0.45" stroke-width="3.9"/>
<circle cx="865.5" cy="125.8" r="4.9" fill="rgb(150,45,195)" fill-opacity="0.6"/>
<circle cx="865.5" cy="125.8" r="6.85" fill="none" stroke="rgb(140,140,140)" stroke-opacity="0.45" stroke-width="3.9"/>
<circle cx="849.7" cy="124.6" r="4.9" fill="rgb(150,45,195)" fill-opacity="0.6"/>
<circle cx="849.7" cy="124.6" r="6.85" fill="none" stroke="rgb(140,140,140)" stroke-opacity="0.45" stroke-width="3.9"/>
<circle cx="852.0" cy="135.5" r="4.9" fill="rgb(150,45,195)" fill-opacity="0.6"/>
<circle cx="852.0" cy="135.5" r="6.85" fill="none" stroke="rgb(140,140,140)" stroke-opacity="0.45" stroke-width="3.9"/>
<circle cx="843.6" cy="133.0" r="4.9" fill="rgb(150,45,195)" fill-opacity="0.6"/>
<circle cx="843.6" cy="133.0" r="6.85" fill="none" stroke="rgb(140,140,140)" stroke-opacity="0.45" stroke-width="3.9"/>
<circle cx="910.4" cy="216.7" r="4.9" fill="rgb(150,45,195)" fill-opacity="0.6"/>
<circle cx="910.4" cy="216.7" r="6.85" fill="none" stroke="rgb(140,140,140)" stroke-opacity="0.45" stroke-width="3.9"/>
<circle cx="925.4" cy="226.4" r="4.9" fill="rgb(150,45,195)" fill-opacity="0.6"/>
<circle cx="925.4" cy="226.4" r="6.85" fill="none" stroke="rgb(140,140,140)" stroke-opacity="0.45" stroke-width="3.9"/>
<circle cx="881.7" cy="230.8" r="4.9" fill="rgb(150,45,195)" fill-opacity="0.6"/>
<circle cx="881.7" cy="230.8" r="6.85" fill="none" stroke="rgb(140,140,140)" stroke-opacity="0.45" stroke-width="3.9"/>
<circle cx="886.0" cy="228.8" r="4.9" fill="rgb(150,45,195)" fill-opacity="0.6"/>
<circle cx="886.0" cy="228.8" r="6.85" fill="none" stroke="rgb(140,140,140)" stroke-opacity="0.45" stroke-width="3.9"/>
<circle cx="876.4" cy="250.7" r="4.9" fill="rgb(150,45,195)" fill-opacity="0.6"/>
<circle cx="876.4" cy="250.7" r="6.85" fill="none" stroke="rgb(140,140,140)" stroke-opacity="0.45" stroke-width="3.9"/>
<circle cx="906.0" cy="253.6" r="4.9" fill="rgb(150,45,195)" fill-opacity="0.6"/>
<circle cx="906.0" cy="253.6" r="6.85" fill="none" stroke="rgb(140,140,140)" stroke-opacity="0.45" stroke-width="3.9"/>
<circle cx="938.4" cy="295.0" r="4.9" fill="rgb(150,45,195)" fill-opacity="0.6"/>
<circle cx="938.4" cy="295.0" r="6.85" fill="none" stroke="rgb(140,140,140)" stroke-opacity="0.45" stroke-width="3.9"/>
<circle cx="941.4" cy="291.7" r="4.9" fill="rgb(150,45,195)" fill-opacity="0.6"/>
<circle cx="941.4" cy="291.7" r="6.85" fill="none" stroke="rgb(140,140,140)" stroke-opacity="0.45" stroke-width="3.9"/>
<circle cx="962.3" cy="286.0" r="4.9" fill="rgb(150,45,195)" fill-opacity="0.6"/>
<circle cx="962.3" cy="286.0" r="6.85" fill="none" stroke="rgb(140,140,140)" stroke-opacity="0.45" stroke-width="3.9"/>
<circle cx="970.1" cy="273.3" r="4.9" fill="rgb(150,45,195)" fill-opacity="0.6"/>
<circle cx="970.1" cy="273.3" r="6.85" fill="none" stroke="rgb(140,140,140)" stroke-opacity="0.45" stroke-width="3.9"/>
<circle cx="1026.6" cy="321.4" r="4.9" fill="rgb(150,45,195)" fill-opacity="0.6"/>
<circle cx="1026.6" cy="321.4" r="6.85" fill="none" stroke="rgb(140,140,140)" stroke-opacity="0.45" stroke-width="3.9"/>
<circle cx="1041.9" cy="317.5" r="4.9" fill="rgb(150,45,195)" fill-opacity="0.6"/>
<circle cx="1041.9" cy="317.5" r="6.85" fill="none" stroke="rgb(140,140,140)" stroke-opacity="0.45" stroke-width="3.9"/>
</g>
<line x1="790.80" y1="50.00" x2="1030.80" y2="334.70" stroke="#d4521a" stroke-width="3.8"/>
<line x1="94.50" y1="48.50" x2="94.50" y2="335.00" stroke="#000" stroke-width="2"/>
<line x1="93.50" y1="334.00" x2="640.70" y2="334.00" stroke="#000" stroke-width="2"/>
<line x1="94.50" y1="334.00" x2="100.50" y2="334.00" stroke="#000" stroke-width="2"/>
<text x="84.00" y="341.00" font-size="29.3" text-anchor="end" font-weight="normal">0</text>
<line x1="94.50" y1="277.10" x2="100.50" y2="277.10" stroke="#000" stroke-width="2"/>
<text x="84.00" y="284.10" font-size="29.3" text-anchor="end" font-weight="normal">0.2</text>
<line x1="94.50" y1="220.20" x2="100.50" y2="220.20" stroke="#000" stroke-width="2"/>
<text x="84.00" y="227.20" font-size="29.3" text-anchor="end" font-weight="normal">0.4</text>
<line x1="94.50" y1="163.30" x2="100.50" y2="163.30" stroke="#000" stroke-width="2"/>
<text x="84.00" y="170.30" font-size="29.3" text-anchor="end" font-weight="normal">0.6</text>
<line x1="94.50" y1="106.40" x2="100.50" y2="106.40" stroke="#000" stroke-width="2"/>
<text x="84.00" y="113.40" font-size="29.3" text-anchor="end" font-weight="normal">0.8</text>
<line x1="94.50" y1="49.50" x2="100.50" y2="49.50" stroke="#000" stroke-width="2"/>
<text x="84.00" y="56.50" font-size="29.3" text-anchor="end" font-weight="normal">1</text>
<line x1="148.80" y1="334.00" x2="148.80" y2="328.00" stroke="#000" stroke-width="2"/>
<text x="148.80" y="365.60" font-size="29.3" text-anchor="middle" font-weight="normal">2</text>
<line x1="203.36" y1="334.00" x2="203.36" y2="328.00" stroke="#000" stroke-width="2"/>
<text x="203.36" y="365.60" font-size="29.3" text-anchor="middle" font-weight="normal">3</text>
<line x1="257.92" y1="334.00" x2="257.92" y2="328.00" stroke="#000" stroke-width="2"/>
<text x="257.92" y="365.60" font-size="29.3" text-anchor="middle" font-weight="normal">4</text>
<line x1="312.48" y1="334.00" x2="312.48" y2="328.00" stroke="#000" stroke-width="2"/>
<text x="312.48" y="365.60" font-size="29.3" text-anchor="middle" font-weight="normal">5</text>
<line x1="367.04" y1="334.00" x2="367.04" y2="328.00" stroke="#000" stroke-width="2"/>
<text x="367.04" y="365.60" font-size="29.3" text-anchor="middle" font-weight="normal">6</text>
<line x1="421.60" y1="334.00" x2="421.60" y2="328.00" stroke="#000" stroke-width="2"/>
<text x="421.60" y="365.60" font-size="29.3" text-anchor="middle" font-weight="normal">7</text>
<line x1="476.16" y1="334.00" x2="476.16" y2="328.00" stroke="#000" stroke-width="2"/>
<text x="476.16" y="365.60" font-size="29.3" text-anchor="middle" font-weight="normal">8</text>
<line x1="530.72" y1="334.00" x2="530.72" y2="328.00" stroke="#000" stroke-width="2"/>
<text x="530.72" y="365.60" font-size="29.3" text-anchor="middle" font-weight="normal">9</text>
<line x1="585.28" y1="334.00" x2="585.28" y2="328.00" stroke="#000" stroke-width="2"/>
<text x="587.48" y="365.60" font-size="29.3" text-anchor="middle" font-weight="normal">10</text>
<text x="368.50" y="405.30" font-size="29.3" text-anchor="middle" font-weight="normal">Number of communities</text>
<text x="24.30" y="192.00" font-size="29.3" text-anchor="middle" font-weight="normal" transform="rotate(-90 24.3 192)">Size of max. assrt. set</text>
<text x="611.00" y="36.00" font-size="29.3" text-anchor="end" font-weight="normal">Human</text>
<text x="-1.20" y="30.50" font-size="42" text-anchor="start" font-weight="bold">a</text>
<rect x="780.5" y="50" width="273.5" height="284.7" fill="none" stroke="#000" stroke-width="2"/>
<line x1="780.50" y1="280.00" x2="784.30" y2="280.00" stroke="#000" stroke-width="2"/>
<line x1="1054.00" y1="280.00" x2="1050.20" y2="280.00" stroke="#000" stroke-width="2"/>
<text x="771.50" y="289.20" font-size="29.3" text-anchor="end" font-weight="normal">0.2</text>
<line x1="780.50" y1="224.00" x2="784.30" y2="224.00" stroke="#000" stroke-width="2"/>
<line x1="1054.00" y1="224.00" x2="1050.20" y2="224.00" stroke="#000" stroke-width="2"/>
<text x="771.50" y="233.20" font-size="29.3" text-anchor="end" font-weight="normal">0.4</text>
<line x1="780.50" y1="168.00" x2="784.30" y2="168.00" stroke="#000" stroke-width="2"/>
<line x1="1054.00" y1="168.00" x2="1050.20" y2="168.00" stroke="#000" stroke-width="2"/>
<text x="771.50" y="177.20" font-size="29.3" text-anchor="end" font-weight="normal">0.6</text>
<line x1="780.50" y1="112.00" x2="784.30" y2="112.00" stroke="#000" stroke-width="2"/>
<line x1="1054.00" y1="112.00" x2="1050.20" y2="112.00" stroke="#000" stroke-width="2"/>
<text x="771.50" y="121.20" font-size="29.3" text-anchor="end" font-weight="normal">0.8</text>
<line x1="780.50" y1="56.00" x2="784.30" y2="56.00" stroke="#000" stroke-width="2"/>
<line x1="1054.00" y1="56.00" x2="1050.20" y2="56.00" stroke="#000" stroke-width="2"/>
<text x="771.50" y="65.20" font-size="29.3" text-anchor="end" font-weight="normal">1</text>
<line x1="781.60" y1="334.70" x2="781.60" y2="330.90" stroke="#000" stroke-width="2"/>
<line x1="781.60" y1="50.00" x2="781.60" y2="53.80" stroke="#000" stroke-width="2"/>
<text x="781.60" y="364.80" font-size="29.3" text-anchor="middle" font-weight="normal">0</text>
<line x1="892.20" y1="334.70" x2="892.20" y2="330.90" stroke="#000" stroke-width="2"/>
<line x1="892.20" y1="50.00" x2="892.20" y2="53.80" stroke="#000" stroke-width="2"/>
<text x="892.20" y="364.80" font-size="29.3" text-anchor="middle" font-weight="normal">1</text>
<line x1="1002.80" y1="334.70" x2="1002.80" y2="330.90" stroke="#000" stroke-width="2"/>
<line x1="1002.80" y1="50.00" x2="1002.80" y2="53.80" stroke="#000" stroke-width="2"/>
<text x="1002.80" y="364.80" font-size="29.3" text-anchor="middle" font-weight="normal">2</text>
<text x="916.00" y="404.80" font-size="29.3" text-anchor="middle" font-weight="normal">Node strength (log10)</text>
<text x="709.00" y="193.20" font-size="29.3" text-anchor="middle" font-weight="normal" transform="rotate(-90 709 193.2)">Prob. max. assrt.</text>
<text x="683.80" y="30.50" font-size="42" text-anchor="start" font-weight="bold">b</text>
<text x="1039.50" y="93.00" font-size="24.5" text-anchor="end" font-weight="normal"><tspan font-style="italic">r</tspan> = −0.83</text>
<text x="913" y="131.9" font-size="24.5"><tspan font-style="italic">p</tspan> = 10<tspan font-size="19" dy="-12.5">−33.13</tspan></text>
<line x1="1190.80" y1="41.00" x2="1190.80" y2="328.20" stroke="#000" stroke-width="2"/>
<line x1="1190.80" y1="272.52" x2="1196.40" y2="272.52" stroke="#000" stroke-width="2"/>
<text x="1181.10" y="280.52" font-size="29.3" text-anchor="end" font-weight="normal">0.2</text>
<line x1="1190.80" y1="216.34" x2="1196.40" y2="216.34" stroke="#000" stroke-width="2"/>
<text x="1181.10" y="224.34" font-size="29.3" text-anchor="end" font-weight="normal">0.4</text>
<line x1="1190.80" y1="160.16" x2="1196.40" y2="160.16" stroke="#000" stroke-width="2"/>
<text x="1181.10" y="168.16" font-size="29.3" text-anchor="end" font-weight="normal">0.6</text>
<line x1="1190.80" y1="103.98" x2="1196.40" y2="103.98" stroke="#000" stroke-width="2"/>
<text x="1181.10" y="111.98" font-size="29.3" text-anchor="end" font-weight="normal">0.8</text>
<line x1="1190.80" y1="47.80" x2="1196.40" y2="47.80" stroke="#000" stroke-width="2"/>
<text x="1182.10" y="53.80" font-size="29.3" text-anchor="end" font-weight="normal">1</text>
<text x="1277.70" y="357.90" font-size="29.3" text-anchor="middle" font-weight="normal">Non-RC</text>
<text x="1374.20" y="357.90" font-size="29.3" text-anchor="middle" font-weight="normal">RC</text>
<text x="1120.60" y="184.00" font-size="29.3" text-anchor="middle" font-weight="normal" transform="rotate(-90 1120.6 184)">Prob. max. assrt.</text>
<text x="1098.20" y="30.50" font-size="42" text-anchor="start" font-weight="bold">c</text>
<line x1="1554.00" y1="41.00" x2="1554.00" y2="328.20" stroke="#000" stroke-width="2"/>
<line x1="1554.00" y1="272.52" x2="1559.60" y2="272.52" stroke="#000" stroke-width="2"/>
<text x="1542.60" y="280.52" font-size="29.3" text-anchor="end" font-weight="normal">0.2</text>
<line x1="1554.00" y1="216.34" x2="1559.60" y2="216.34" stroke="#000" stroke-width="2"/>
<text x="1542.60" y="224.34" font-size="29.3" text-anchor="end" font-weight="normal">0.4</text>
<line x1="1554.00" y1="160.16" x2="1559.60" y2="160.16" stroke="#000" stroke-width="2"/>
<text x="1542.60" y="168.16" font-size="29.3" text-anchor="end" font-weight="normal">0.6</text>
<line x1="1554.00" y1="103.98" x2="1559.60" y2="103.98" stroke="#000" stroke-width="2"/>
<text x="1542.60" y="111.98" font-size="29.3" text-anchor="end" font-weight="normal">0.8</text>
<line x1="1554.00" y1="47.80" x2="1559.60" y2="47.80" stroke="#000" stroke-width="2"/>
<text x="1543.60" y="53.80" font-size="29.3" text-anchor="end" font-weight="normal">1</text>
<text x="1481.00" y="184.00" font-size="29.3" text-anchor="middle" font-weight="normal" transform="rotate(-90 1481 184)">Prob. max. assrt.</text>
<text x="1456.30" y="30.50" font-size="42" text-anchor="start" font-weight="bold">d</text>
<text x="1623.40" y="346.50" font-size="29.3" text-anchor="end" font-weight="normal" transform="rotate(-45 1623.4 346.5)">DAN</text>
<text x="1683.80" y="346.50" font-size="29.3" text-anchor="end" font-weight="normal" transform="rotate(-45 1683.8 346.5)">CONT</text>
<text x="1744.20" y="346.50" font-size="29.3" text-anchor="end" font-weight="normal" transform="rotate(-45 1744.2 346.5)">DMN</text>
<text x="1804.60" y="346.50" font-size="29.3" text-anchor="end" font-weight="normal" transform="rotate(-45 1804.6 346.5)">VIS</text>
<text x="1865.00" y="346.50" font-size="29.3" text-anchor="end" font-weight="normal" transform="rotate(-45 1865.0 346.5)">LIM</text>
<text x="1925.40" y="346.50" font-size="29.3" text-anchor="end" font-weight="normal" transform="rotate(-45 1925.4 346.5)">SMN</text>
<text x="1985.80" y="346.50" font-size="29.3" text-anchor="end" font-weight="normal" transform="rotate(-45 1985.8 346.5)">SAL</text>
<text x="2046.20" y="346.50" font-size="29.3" text-anchor="end" font-weight="normal" transform="rotate(-45 2046.2 346.5)">SUB</text>
</svg></body></html>
